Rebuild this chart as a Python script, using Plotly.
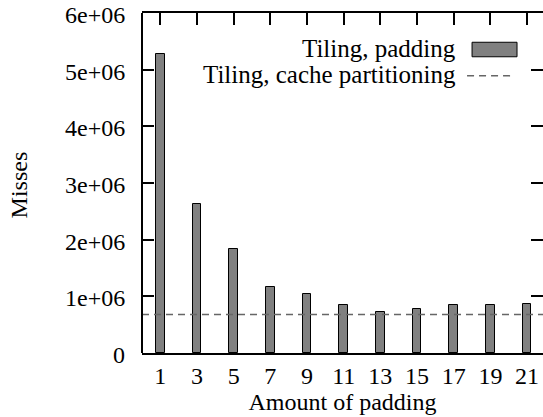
import plotly.graph_objects as go

padding = [1, 3, 5, 7, 9, 11, 13, 15, 17, 19, 21]
misses_padding = [5270000, 2630000, 1830000, 1160000, 1035000, 840000, 720000, 770000, 840000, 840000, 870000]
misses_partition = 680000
series_names = ["Tiling, padding", "Tiling, cache partitioning"]
ytick_vals = [0, 1e6, 2e6, 3e6, 4e6, 5e6, 6e6]
ytick_text = ["0", "1e+06", "2e+06", "3e+06", "4e+06", "5e+06", "6e+06"]
x_min, x_max = 0, 21.87

FONT = "Liberation Serif"
FS = 24
FIG_W, FIG_H = 543, 417

# plot area in page pixels
L, T, R, B = 141.7, 13.3, 543, 352.7
W, H = R - L, B - T


def px(x):
    return (x - L) / W


def py(y):
    return 1 - (y - T) / H


fig = go.Figure()
fig.add_trace(go.Bar(
    x=padding, y=misses_padding, width=0.48, name=series_names[0],
    marker=dict(color="#808080", line=dict(color="black", width=1)),
    showlegend=False,
))
fig.add_trace(go.Scatter(
    x=[x_min, x_max], y=[misses_partition, misses_partition], mode="lines",
    name=series_names[1], line=dict(color="#666666", width=1.5, dash="7px,5px"),
    showlegend=False,
))

# legend (symbols on the right, gnuplot style)
fig.add_annotation(xref="paper", yref="paper", x=px(457), y=py(49),
                   text=series_names[0], showarrow=False, xanchor="right", yanchor="middle",
                   font=dict(family=FONT, size=25, color="black"), borderpad=0)
fig.add_annotation(xref="paper", yref="paper", x=px(457), y=py(75),
                   text=series_names[1], showarrow=False, xanchor="right", yanchor="middle",
                   font=dict(family=FONT, size=25, color="black"), borderpad=0)
fig.add_shape(type="rect", xref="paper", yref="paper",
              x0=px(472), x1=px(517), y0=py(57), y1=py(42.5),
              fillcolor="#808080", line=dict(color="black", width=1))
fig.add_shape(type="line", xref="paper", yref="paper",
              x0=px(467), x1=px(514), y0=py(76), y1=py(76),
              line=dict(color="#666666", width=1.5, dash="7px,5px"))
# left border
fig.add_shape(type="line", xref="paper", yref="paper", x0=0, x1=0, y0=0, y1=1,
              line=dict(color="black", width=2))
# y tick labels, placed through the y scale
for v, t in zip(ytick_vals, ytick_text):
    fig.add_annotation(xref="paper", yref="y", x=px(126), y=v, text=t, showarrow=False,
                       xanchor="right", yanchor="middle", yshift=-2, borderpad=0,
                       font=dict(family=FONT, size=FS, color="black"))
# y-axis title
fig.add_annotation(xref="paper", yref="paper", x=px(19), y=py(185), text="Misses",
                   textangle=-90, showarrow=False, xanchor="center", yanchor="middle",
                   font=dict(family=FONT, size=FS, color="black"), borderpad=0)

fig.update_layout(
    width=FIG_W, height=FIG_H,
    margin=dict(l=L, r=0, t=T, b=FIG_H - B, autoexpand=False),
    paper_bgcolor="white", plot_bgcolor="white",
    font=dict(family=FONT, size=FS, color="black"),
    bargap=0,
    xaxis=dict(
        range=[x_min, x_max], tickvals=padding, ticks="inside", ticklen=12, tickwidth=1.5,
        tickcolor="black", showline=True, linecolor="black", linewidth=2, mirror="ticks",
        showgrid=False, zeroline=False, layer="below traces", automargin=False,
        ticklabeloverflow="allow",
        title=dict(text="Amount of padding", standoff=0, font=dict(family=FONT, size=FS)),
        tickfont=dict(family=FONT, size=FS),
    ),
    yaxis=dict(
        range=[0, 6e6], tickvals=ytick_vals, showticklabels=False,
        ticks="inside", ticklen=12,
        tickwidth=1.5, tickcolor="black", showline=False, mirror="ticks",
        showgrid=False, zeroline=False, layer="below traces", automargin=False,
    ),
)

fig.write_html("out.html", post_script="document.body.style.margin='0';",
               config={"displayModeBar": False})
